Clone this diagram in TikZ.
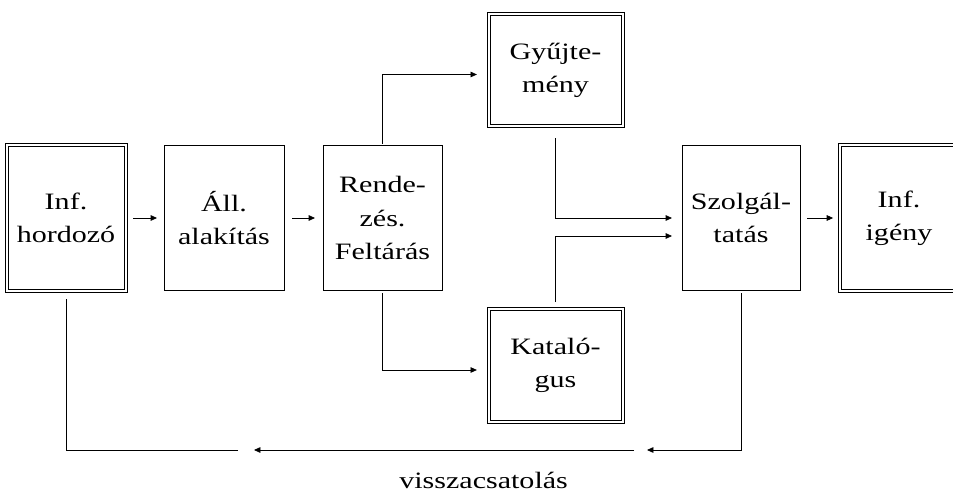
\documentclass[tikz,border=0pt]{standalone}
\usepackage{fontspec}
\setmainfont{Liberation Serif}[FakeStretch=1.28]
\usetikzlibrary{positioning,arrows.meta,calc}
\tikzset{
  doboz/.style   = {draw, line width=0.25mm, align=center, outer sep=0pt, inner sep=2pt,
                    minimum width=30mm, minimum height=36mm,
                    font=\fontsize{16.7}{23.5}\selectfont},
  dupla/.style   = {doboz, double, double distance=0.5mm},
  nyil/.style    = {-{Triangle[length=1.6mm, width=1.4mm]}, line width=0.2mm},
  vonal/.style   = {line width=0.2mm},
  felirat/.style = {font=\fontsize{16.7}{23.5}\selectfont, inner sep=0pt}
}

\begin{document}
\begin{tikzpicture}[node distance=9.75mm]
  \useasboundingbox (0,0) rectangle (238.25mm,-122.75mm);

  \node[dupla, minimum width=29.75mm, minimum height=36.25mm] (hordozo) at (16.5mm,-54.5mm)
      {Inf.\\hordozó};
  \node[doboz, right=9.625mm of hordozo] (all) {Áll.\\alakítás};
  \node[doboz, minimum width=29.75mm, right=of all] (rend) {Rende-\\zés.\\Feltárás};
  \node[dupla, minimum width=33.5mm, minimum height=28mm,
        above right=4.875mm and 11.625mm of rend] (gyujt) {Gyűjte-\\mény};
  \node[dupla, minimum width=33.5mm, minimum height=28.25mm,
        below right=4.625mm and 11.625mm of rend] (kat) {Kataló-\\gus};
  \node[doboz, minimum width=29.5mm, right=60mm of rend] (szolg) {Szolgál-\\tatás};
  \node[dupla, minimum width=29.75mm, minimum height=36.25mm, right=9.875mm of szolg] (igeny)
      {Inf.\\igény};

  \draw[nyil, shorten <=1.9mm, shorten >=1.75mm] (hordozo) -- (all);
  \draw[nyil, shorten <=2mm, shorten >=2mm] (all) -- (rend);
  \draw[nyil, shorten <=1.75mm, shorten >=1.6mm] (szolg) -- (igeny);

  \draw[nyil, shorten <=0.5mm, shorten >=2.9mm] (rend.north) |- ([yshift=-1mm]gyujt.west);
  \draw[nyil, shorten <=0.75mm, shorten >=2.9mm] (rend.south) |- ([yshift=-1.25mm]kat.west);
  \draw[nyil, shorten <=3mm, shorten >=2.5mm] (gyujt.south) |- (szolg.west);
  \draw[nyil, shorten <=1.6mm, shorten >=2.5mm] (kat.north) |- ([yshift=-4.5mm]szolg.west);

  % visszacsatolás
  \coordinate (fb1) at (161.75mm,-112.5mm);
  \coordinate (fb2) at (158.5mm,-112.5mm);
  \coordinate (fb3) at (63.5mm,-112.5mm);
  \coordinate (fb4) at (59.5mm,-112.5mm);
  \draw[nyil, shorten <=0.75mm] (szolg.south) |- (fb1);
  \draw[nyil] (fb2) -- (fb3);
  \draw[vonal, shorten >=2mm] (fb4) -| (hordozo.south);

  \node[felirat, anchor=base] (visszacs) at (120.9mm,-122mm) {visszacsatolás};
\end{tikzpicture}
\end{document}
